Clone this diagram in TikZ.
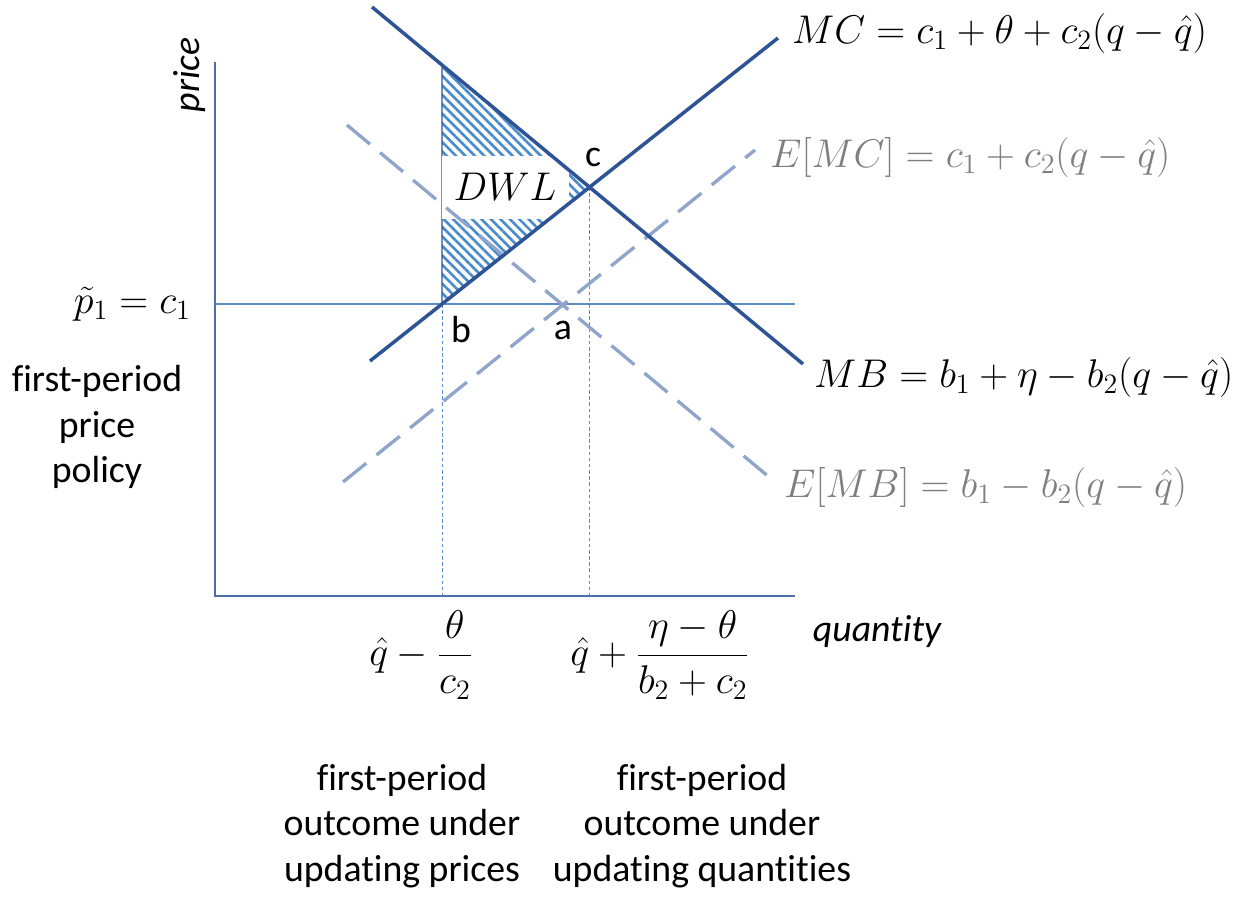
\documentclass[tikz,border=0pt]{standalone}
\usepackage{fix-cm}
\usepackage{fontspec}
\setmainfont{Carlito}[Ligatures=NoCommon]
\usetikzlibrary{patterns.meta}
\definecolor{curveblue}{HTML}{2F5496}
\definecolor{expblue}{HTML}{8FA5CB}
\definecolor{axisblue}{HTML}{4A6FA8}
\definecolor{guideblue}{HTML}{5B8BC9}
\definecolor{hatchblue}{HTML}{4A8CCB}
\definecolor{eqgray}{HTML}{7F7F7F}
\begin{document}
\begin{tikzpicture}[x=0.02cm, y=-0.02cm,
	every node/.style={font=\fontsize{21.5}{26}\selectfont},
	eqn/.style={font=\fontsize{22.8}{28}\selectfont},
	curveline/.style={curveblue, line width=2pt},
	expline/.style={expblue, line width=1.9pt, dash pattern=on 17pt off 7.5pt},
	guideline/.style={guideblue, line width=0.5pt, dash pattern=on 2pt off 1.5pt},
	note/.style={align=center}]
\useasboundingbox (0,0) rectangle (1250,899);
\coordinate (o) at (215,596);
\coordinate (ytop) at (215,62);
\coordinate (xend) at (795,596);
\coordinate (p0) at (215,304);
\coordinate (p1) at (795,304);
\coordinate (mc0) at (370,361);
\coordinate (mc1) at (778,38);
\coordinate (mb0) at (372,7);
\coordinate (mb1) at (803,364);
\coordinate (emc0) at (343,482);
\coordinate (emc1) at (755,150);
\coordinate (emb0) at (347,125);
\coordinate (emb1) at (775,482);
\coordinate (c) at (intersection of mc0--mc1 and mb0--mb1);
\coordinate (b) at (intersection of mc0--mc1 and p0--p1);
\coordinate (a) at (intersection of emc0--emc1 and emb0--emb1);
\coordinate (bx) at (b |- o);
\coordinate (cx) at (c |- o);
\coordinate (top) at (intersection of mb0--mb1 and b--bx);

\draw[axisblue, line width=1.1pt] (ytop) -- (o) -- (xend);
\draw[guideblue, line width=0.6pt] (p0) -- (p1);
\foreach \p in {b,c} {
	\draw[guideline] (\p) -- (\p |- o);
}
\fill[pattern={Lines[angle=-45, distance=3.8pt, line width=1.5pt]}, pattern color=hatchblue] (top) -- (c) -- (b) -- cycle;
\draw[curveblue, line width=0.8pt] (top) -- (b);
\node[eqn, fill=white, minimum width=127*0.02cm, minimum height=63*0.02cm, inner sep=0pt] (dwl) at (505,187) {$DWL$};
\draw[expline] (emc0) -- (emc1);
\draw[expline] (emb0) -- (emb1);
\draw[curveline] (mc0) -- (mc1);
\draw[curveline] (mb0) -- (mb1);

\node[eqn, anchor=west] (mclab) at (786,33) {$MC=c_1+\theta+c_2(q-\hat q)$};
\node[eqn, anchor=west, text=eqgray] (emclab) at (764,157) {$E[MC]=c_1+c_2(q-\hat q)$};
\node[eqn, anchor=west] (mblab) at (808,377) {$MB=b_1+\eta-b_2(q-\hat q)$};
\node[eqn, anchor=west, text=eqgray] (emblab) at (778,487) {$E[MB]=b_1-b_2(q-\hat q)$};

\node (clab) at (593,157) {c};
\node (blab) at (461,330) {b};
\node (alab) at (563,330) {a};

\node[rotate=90, font=\fontsize{21.5}{26}\selectfont\itshape] (ylab) at (190,75) {price};
\node[font=\fontsize{21.5}{26}\selectfont\itshape] (xlab) at (877,632) {quantity};
\node[eqn, anchor=east] (plab) at (197,304) {$\tilde p_1=c_1$};
\node[note] (pnote) at (97,427) {first-period\\price\\policy};
\node[eqn] (qlab1) at (421,655) {$\displaystyle\hat q-\frac{\theta}{c_2}$};
\node[eqn] (qlab2) at (660,655) {$\displaystyle\hat q+\frac{\eta-\theta}{b_2+c_2}$};
\node[note] (note1) at (402,826) {first-period\\outcome under\\updating prices};
\node[note] (note2) at (702,826) {first-period\\outcome under\\updating quantities};
\end{tikzpicture}
\end{document}
